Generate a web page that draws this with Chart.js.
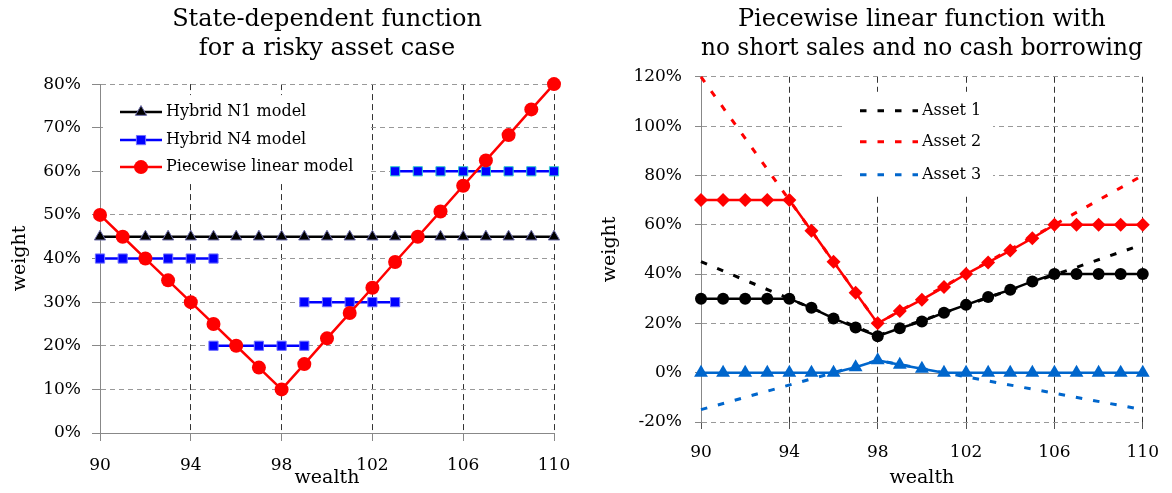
<!DOCTYPE html>
<html>
<head>
  <title>Portfolio weight as a function of wealth</title>
  <script src="https://cdn.jsdelivr.net/npm/chart.js@4.4.0/dist/chart.umd.min.js"></script>
  <style>
    * {
      margin: 0;
      padding: 0;
      box-sizing: border-box;
    }

    body {
      background: #fff;
      width: 1172px;
      height: 493px;
      overflow: hidden;
    }

    .charts {
      display: flex;
    }

    .panel {
      width: 586px;
      height: 493px;
    }
  </style>
</head>
<body>
<div class="charts">
  <div class="panel"><canvas id="riskyChart" width="586" height="493"></canvas></div>
  <div class="panel"><canvas id="assetsChart" width="586" height="493"></canvas></div>
</div>

<script>
  // wealth grid shared by both panels
  const wealth = [90, 91, 92, 93, 94, 95, 96, 97, 98, 99, 100, 101, 102, 103, 104, 105, 106, 107, 108, 109, 110];
  const wealthTicks = [90, 94, 98, 102, 106, 110];

  // left panel: weight of the risky asset (%)
  const hybridN1 = [45, 45, 45, 45, 45, 45, 45, 45, 45, 45, 45, 45, 45, 45, 45, 45, 45, 45, 45, 45, 45];
  const n4WealthA = [90, 91, 92, 93, 94, 95];
  const n4WeightA = [40, 40, 40, 40, 40, 40];
  const n4WealthB = [95, 96, 97, 98, 99];
  const n4WeightB = [20, 20, 20, 20, 20];
  const n4WealthC = [99, 100, 101, 102, 103];
  const n4WeightC = [30, 30, 30, 30, 30];
  const n4WealthD = [103, 104, 105, 106, 107, 108, 109, 110];
  const n4WeightD = [60, 60, 60, 60, 60, 60, 60, 60];
  const piecewise = [50, 45, 40, 35, 30, 25, 20, 15, 10, 15.8, 21.7, 27.5, 33.3, 39.2, 45, 50.8, 56.7, 62.5, 68.3, 74.2, 80];

  // right panel: constrained weights (%)
  const asset1 = [30, 30, 30, 30, 30, 26.3, 22, 18.3, 14.8, 18, 20.8, 24.3, 27.5, 30.7, 33.6, 37, 40, 40, 40, 40, 40];
  const asset2 = [70, 70, 70, 70, 70, 57.6, 45, 32.4, 20, 25, 29.6, 34.7, 40, 44.7, 49.5, 54.5, 60, 60, 60, 60, 60];
  const asset3 = [0, 0, 0, 0, 0, 0, 0, 2.2, 5, 3.2, 1.6, 0, 0, 0, 0, 0, 0, 0, 0, 0, 0];

  // right panel: unconstrained weights, straight between the kinks
  const kinkWealth = [90, 98, 110];
  const asset1Free = [45, 15, 52];
  const asset2Free = [120, 20, 80];
  const asset3Free = [-15, 5, -15];

  const pts = (xs, ys) => xs.map((x, i) => ({ x: x, y: ys[i] }));
  const pct = v => v + '%';
  const fixedWealthTicks = s => { s.ticks = wealthTicks.map(v => ({ value: v })); };

  Chart.defaults.font.family = '"DejaVu Serif", serif';
  Chart.defaults.color = '#000';

  // legend drawn inside the plot on a white box
  const boxLegend = {
    id: 'boxLegend',
    beforeDatasetsDraw(chart, args, opts) {
      if (!opts.rows) return;
      const { ctx, chartArea: a } = chart;
      ctx.save();
      ctx.fillStyle = '#fff';
      ctx.fillRect(a.left + opts.box[0], a.top + opts.box[1], opts.box[2], opts.box[3]);
      ctx.font = '16px "DejaVu Serif"';
      ctx.textBaseline = 'middle';
      ctx.textAlign = 'left';
      opts.datasets.forEach((idx, i) => {
        const ds = chart.data.datasets[idx];
        const y = a.top + opts.rows[i];
        const x0 = a.left + opts.line[0];
        const x1 = a.left + opts.line[1];
        ctx.strokeStyle = ds.borderColor;
        ctx.lineWidth = ds.borderWidth;
        ctx.setLineDash(ds.borderDash || []);
        ctx.beginPath();
        ctx.moveTo(x0, y);
        ctx.lineTo(x1, y);
        ctx.stroke();
        ctx.setLineDash([]);
        if (ds.pointRadius) {
          ctx.fillStyle = ds.backgroundColor;
          ctx.strokeStyle = ds.pointBorderColor || ds.borderColor;
          ctx.lineWidth = ds.pointBorderWidth || 0;
          Chart.helpers.drawPoint(ctx, {
            pointStyle: ds.pointStyle,
            radius: ds.pointRadius,
            rotation: 0,
            borderWidth: ds.pointBorderWidth || 0
          }, (x0 + x1) / 2, y);
        }
        ctx.fillStyle = '#000';
        ctx.fillText(ds.label, a.left + opts.text, y);
      });
      ctx.restore();
    }
  };

  // solid reference line at 0%
  const zeroLine = {
    id: 'zeroLine',
    beforeDatasetsDraw(chart, args, opts) {
      if (!opts.color) return;
      const { ctx, chartArea: a, scales } = chart;
      const y = Math.round(scales.y.getPixelForValue(0)) + 0.5;
      ctx.save();
      ctx.strokeStyle = opts.color;
      ctx.lineWidth = 1;
      ctx.beginPath();
      ctx.moveTo(a.left, y);
      ctx.lineTo(a.right, y);
      ctx.stroke();
      ctx.restore();
    }
  };

  const titleFont = { size: 24, weight: 'normal', lineHeight: 1.21 };
  const tickFont = { size: 17 };
  const axisTitleFont = { size: 19 };

  const n4Style = {
    borderColor: '#0000ff',
    backgroundColor: '#0000ff',
    borderWidth: 2.5,
    pointStyle: 'rect',
    pointRadius: 6.5,
    pointBorderWidth: 1,
    pointBorderColor: '#7070ff',
    order: 1,
    clip: false
  };

  new Chart(document.getElementById('riskyChart'), {
    type: 'line',
    data: {
      datasets: [
        {
          label: 'Hybrid N1 model',
          data: pts(wealth, hybridN1),
          borderColor: '#000',
          backgroundColor: '#000',
          borderWidth: 2.5,
          pointStyle: 'triangle',
          pointRadius: 6.5,
          pointBorderWidth: 1,
          pointBorderColor: '#6a6aa8',
          order: 2,
          clip: false
        },
        Object.assign({ label: 'Hybrid N4 model', data: pts(n4WealthA, n4WeightA) }, n4Style),
        Object.assign({ label: 'Hybrid N4 model', data: pts(n4WealthB, n4WeightB) }, n4Style),
        Object.assign({ label: 'Hybrid N4 model', data: pts(n4WealthC, n4WeightC) }, n4Style),
        Object.assign({ label: 'Hybrid N4 model', data: pts(n4WealthD, n4WeightD) }, n4Style, { pointBorderColor: '#33cccc' }),
        {
          label: 'Piecewise linear model',
          data: pts(wealth, piecewise),
          borderColor: '#ff0000',
          backgroundColor: '#ff0000',
          borderWidth: 2.5,
          pointStyle: 'circle',
          pointRadius: 7,
          pointBorderWidth: 0,
          order: 0,
          clip: false
        }
      ]
    },
    options: {
      responsive: false,
      animation: false,
      layout: { padding: { left: 0, right: 32, top: 0, bottom: 0 } },
      scales: {
        x: {
          type: 'linear',
          min: 90,
          max: 110,
          afterBuildTicks: fixedWealthTicks,
          ticks: { padding: 14, font: tickFont, color: '#000' },
          grid: {
            color: c => c.tick && c.tick.value === 90 ? 'rgba(0,0,0,0)' : '#333',
            tickColor: '#888',
            tickLength: 8
          },
          border: { color: '#888', dash: [6, 4] },
          title: { display: true, text: 'wealth', font: axisTitleFont, color: '#000', padding: { top: 0, bottom: 4 } },
          afterFit: s => { s.height = 60; }
        },
        y: {
          min: 0,
          max: 80,
          ticks: { stepSize: 10, callback: pct, padding: 11, font: tickFont, color: '#000' },
          grid: {
            color: c => c.tick && c.tick.value === 0 ? 'rgba(0,0,0,0)' : '#999',
            tickColor: '#888',
            tickLength: 8
          },
          border: { color: '#888', dash: [5, 4] },
          title: { display: true, text: 'weight', font: axisTitleFont, color: '#000', padding: { top: 9, bottom: 0 } },
          afterFit: s => { s.width = 100; }
        }
      },
      plugins: {
        legend: { display: false },
        tooltip: { enabled: false },
        title: {
          display: true,
          fullSize: false,
          text: ['State-dependent function', 'for a risky asset case'],
          font: titleFont,
          color: '#000',
          padding: { top: 5.5, bottom: 20.5 }
        },
        boxLegend: {
          box: [3, 11, 267, 87],
          rows: [28, 56, 83],
          line: [20, 62],
          text: 66,
          datasets: [0, 1, 5]
        }
      }
    },
    plugins: [boxLegend]
  });

  const freeStyle = {
    borderWidth: 3,
    borderDash: [6.5, 11],
    pointRadius: 0,
    order: 5,
    clip: false
  };

  new Chart(document.getElementById('assetsChart'), {
    type: 'line',
    data: {
      datasets: [
        Object.assign({ label: 'Asset 1', data: pts(kinkWealth, asset1Free), borderColor: '#000' }, freeStyle),
        Object.assign({ label: 'Asset 2', data: pts(kinkWealth, asset2Free), borderColor: '#ff0000' }, freeStyle),
        Object.assign({ label: 'Asset 3', data: pts(kinkWealth, asset3Free), borderColor: '#0066cc' }, freeStyle),
        {
          label: 'Asset 1 constrained',
          data: pts(wealth, asset1),
          borderColor: '#000',
          backgroundColor: '#000',
          borderWidth: 2.5,
          pointStyle: 'circle',
          pointRadius: 6,
          pointBorderWidth: 0,
          order: 2,
          clip: false
        },
        {
          label: 'Asset 2 constrained',
          data: pts(wealth, asset2),
          borderColor: '#ff0000',
          backgroundColor: '#ff0000',
          borderWidth: 2.5,
          pointStyle: 'rectRot',
          pointRadius: 7,
          pointBorderWidth: 0,
          order: 1,
          clip: false
        },
        {
          label: 'Asset 3 constrained',
          data: pts(wealth, asset3),
          borderColor: '#0066cc',
          backgroundColor: '#0066cc',
          borderWidth: 2.5,
          pointStyle: 'triangle',
          pointRadius: 8,
          pointBorderWidth: 0,
          order: 0,
          clip: false
        }
      ]
    },
    options: {
      responsive: false,
      animation: false,
      layout: { padding: { left: 0, right: 21, top: 0, bottom: 0 } },
      scales: {
        x: {
          type: 'linear',
          min: 90,
          max: 110,
          afterBuildTicks: fixedWealthTicks,
          ticks: { padding: 13, font: tickFont, color: '#000' },
          grid: {
            color: c => c.tick && c.tick.value === 90 ? 'rgba(0,0,0,0)' : '#333',
            tickColor: '#555',
            tickLength: 7
          },
          border: { display: false, dash: [6, 4] },
          title: { display: true, text: 'wealth', font: axisTitleFont, color: '#000', padding: { top: 0, bottom: 4 } },
          afterFit: s => { s.height = 71; }
        },
        y: {
          min: -20,
          max: 120,
          ticks: { stepSize: 20, callback: pct, padding: 13, font: tickFont, color: '#000' },
          grid: {
            color: c => c.tick && c.tick.value === 0 ? 'rgba(0,0,0,0)' : '#999',
            tickColor: '#888',
            tickLength: 6
          },
          border: { color: '#888', dash: [5, 4] },
          title: { display: true, text: 'weight', font: axisTitleFont, color: '#000', padding: { top: 13, bottom: 0 } },
          afterFit: s => { s.width = 115; }
        }
      },
      plugins: {
        legend: { display: false },
        tooltip: { enabled: false },
        title: {
          display: true,
          fullSize: false,
          text: ['Piecewise linear function with', 'no short sales and no cash borrowing'],
          font: titleFont,
          color: '#000',
          padding: { top: 5.5, bottom: 13.2 }
        },
        zeroLine: { color: '#888' },
        boxLegend: {
          box: [142, 15, 150, 104],
          rows: [34, 65, 98],
          line: [159, 217],
          text: 221,
          datasets: [0, 1, 2]
        }
      }
    },
    plugins: [boxLegend, zeroLine]
  });
</script>
</body>
</html>
